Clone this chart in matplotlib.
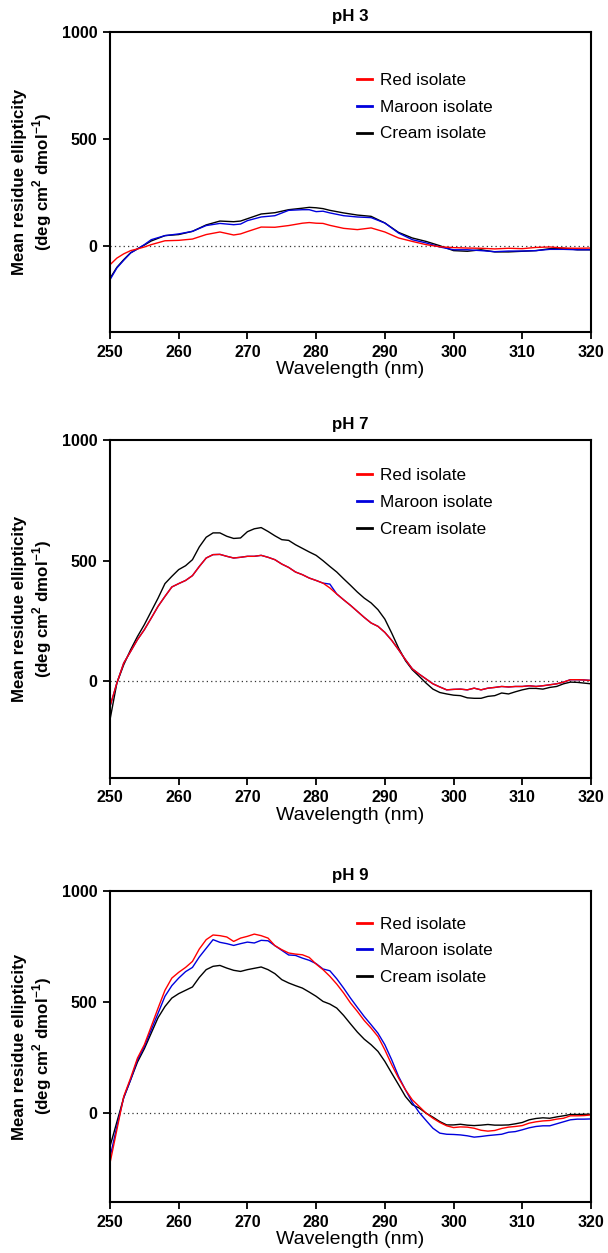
import numpy as np
import matplotlib
matplotlib.use('Agg')
from matplotlib import pyplot as plt

plt.rcParams['font.family'] = ['Liberation Sans', 'DejaVu Sans']
plt.rcParams['mathtext.fontset'] = 'custom'
plt.rcParams['mathtext.rm'] = 'Liberation Sans'
plt.rcParams['mathtext.bf'] = 'Liberation Sans:bold'

# pH 3 spectra (sampled wavelengths)
wl_ph3 = [250, 251, 252, 253, 254, 255, 256, 258, 260, 262, 264, 266, 268, 269, 270, 272, 274, 276,
          278, 279, 280, 281, 282, 284, 286, 288, 290, 292, 294, 296, 298, 300, 302, 304, 306, 308,
          310, 312, 314, 316, 318, 320]
red_ph3 = [-86, -55, -35, -20, -12, -3, 8, 26, 28, 34, 55, 67, 53, 58, 69, 90, 89, 97,
           108, 111, 108, 107, 98, 84, 78, 86, 67, 39, 23, 8, -2, -6, -8, -9, -12, -9,
           -11, -5, -3, -8, -9, -8]
maroon_ph3 = [-156, -101, -65, -31, -12, 8, 31, 50, 58, 70, 97, 107, 101, 104, 120, 137, 143, 168,
              171, 171, 162, 164, 156, 143, 137, 134, 109, 62, 31, 16, -3, -16, -16, -20, -25, -22,
              -22, -20, -14, -14, -16, -16]
cream_ph3 = [-150, -98, -62, -30, -12, 6, 25, 50, 55, 70, 100, 118, 115, 118, 129, 151, 157, 171,
             178, 182, 180, 176, 168, 156, 146, 140, 109, 65, 39, 23, 3, -20, -23, -16, -26, -26,
             -23, -20, -11, -9, -16, -16]

# pH 7 and pH 9 spectra, 1 nm steps from 250 to 320
wl = list(range(250, 321))
red_ph7 = [-104, -7, 76, 124, 173, 214, 262, 311, 352, 391, 405, 418, 438, 476, 511, 525, 526, 518,
           511, 514, 518, 518, 522, 514, 504, 486, 472, 453, 442, 428, 418, 407, 387, 362, 338, 315,
           290, 265, 242, 228, 203, 170, 131, 90, 52, 30, 10, -10, -23, -35, -33, -32, -35, -28,
           -35, -28, -25, -21, -23, -21, -21, -18, -21, -18, -14, -10, -3, 7, 7, 6, 4]
maroon_ph7 = [-104, -7, 76, 124, 173, 214, 262, 311, 352, 391, 405, 418, 438, 476, 511, 525, 526, 518,
              511, 514, 518, 518, 522, 514, 504, 486, 472, 453, 442, 428, 418, 407, 403, 362, 338, 315,
              290, 265, 242, 228, 203, 170, 131, 90, 52, 30, 10, -10, -23, -35, -33, -32, -35, -28,
              -35, -28, -25, -21, -23, -21, -21, -18, -21, -18, -14, -10, -3, 7, 7, 6, 4]
cream_ph7 = [-159, -7, 69, 131, 186, 235, 290, 345, 405, 435, 463, 479, 504, 557, 597, 615, 615, 601,
             592, 594, 620, 632, 637, 621, 603, 587, 584, 566, 551, 536, 522, 500, 476, 453, 425, 398,
             370, 345, 325, 297, 258, 200, 138, 86, 48, 21, -7, -32, -46, -52, -57, -59, -68, -70,
             -70, -62, -59, -48, -52, -43, -35, -29, -29, -32, -25, -21, -10, -3, -4, -7, -10]

red_ph9 = [-225, -75, 75, 158, 248, 308, 390, 473, 553, 608, 634, 656, 683, 739, 781, 802, 799, 793,
           773, 788, 796, 806, 799, 788, 754, 736, 721, 716, 713, 701, 671, 646, 616, 581, 541, 496,
           458, 417, 383, 345, 285, 218, 158, 105, 60, 30, 0, -23, -42, -57, -65, -62, -63, -68,
           -77, -81, -78, -69, -63, -60, -56, -45, -39, -35, -33, -27, -23, -12, -12, -11, -8]
maroon_ph9 = [-200, -60, 70, 150, 240, 300, 375, 450, 526, 574, 608, 637, 656, 703, 742, 781, 769, 763,
              755, 763, 770, 766, 778, 776, 754, 733, 712, 710, 698, 688, 673, 649, 641, 605, 563, 518,
              476, 435, 398, 360, 308, 240, 165, 105, 48, 3, -33, -68, -90, -95, -96, -98, -102, -108,
              -105, -101, -98, -95, -86, -83, -75, -66, -60, -57, -57, -48, -39, -30, -27, -27, -26]
cream_ph9 = [-150, -40, 70, 150, 230, 290, 360, 430, 480, 518, 538, 553, 568, 611, 646, 661, 665, 653,
             643, 638, 646, 652, 658, 646, 628, 601, 586, 574, 563, 545, 526, 503, 491, 473, 440, 402,
             365, 333, 308, 278, 233, 180, 128, 75, 38, 23, 0, -18, -38, -53, -53, -50, -54, -56,
             -54, -51, -54, -54, -53, -48, -42, -30, -24, -21, -23, -17, -12, -6, -6, -5, -5]

labels = ['Red isolate', 'Maroon isolate', 'Cream isolate']
colors = ['#ff0000', '#0000dd', '#000000']

# title, x values, series, axes rect, legend top anchor
panels = [
    ('pH 3', wl_ph3, [red_ph3, maroon_ph3, cream_ph3], [0.1809, 0.7350, 0.7911, 0.2394], 0.865),
    ('pH 7', wl, [red_ph7, maroon_ph7, cream_ph7], [0.1809, 0.3791, 0.7911, 0.2698], 0.916),
    ('pH 9', wl, [red_ph9, maroon_ph9, cream_ph9], [0.1809, 0.0407, 0.7911, 0.2482], 0.918),
]

fig = plt.figure(figsize=(6.08, 12.53), dpi=100)

for title, x, series, rect, leg_top in panels:
    ax = fig.add_axes(rect)
    ax.axhline(0, color='#333333', lw=0.9, ls=(0, (1, 2.5)), zorder=1)
    # red drawn last so it sits on top where curves overlap
    handles = {}
    for i in [2, 1, 0]:
        h, = ax.plot(x, series[i], color=colors[i], lw=1.0, label=labels[i], zorder=2)
        handles[i] = h
    ax.set_xlim(250, 320)
    ax.set_ylim(-400, 1000)
    ax.set_xticks(range(250, 321, 10))
    ax.set_yticks([0, 500, 1000])
    ax.tick_params(direction='out', length=5, width=1.3, labelsize=11.5, pad=4)
    for lab in ax.get_xticklabels() + ax.get_yticklabels():
        lab.set_fontweight('bold')
    for sp in ax.spines.values():
        sp.set_linewidth(1.5)
    ax.set_title(title, fontsize=12.2, fontweight='bold', pad=8)
    ax.set_xlabel('Wavelength (nm)', fontsize=14, labelpad=1)
    ax.set_ylabel('Mean residue ellipticity\n(deg cm$^{\\mathbf{2}}$ dmol$^{\\mathbf{-1}}$)',
                  fontsize=12.2, fontweight='bold', labelpad=6, linespacing=1.15)
    leg = ax.legend([handles[0], handles[1], handles[2]], labels, loc='upper left',
                    bbox_to_anchor=(0.5135, leg_top), frameon=False, fontsize=12.3,
                    handlelength=0.88, handletextpad=0.47, labelspacing=0.7,
                    borderpad=0, borderaxespad=0)
    for lh in leg.get_lines():
        lh.set_linewidth(2.0)

fig.savefig('out.png', dpi=100)
